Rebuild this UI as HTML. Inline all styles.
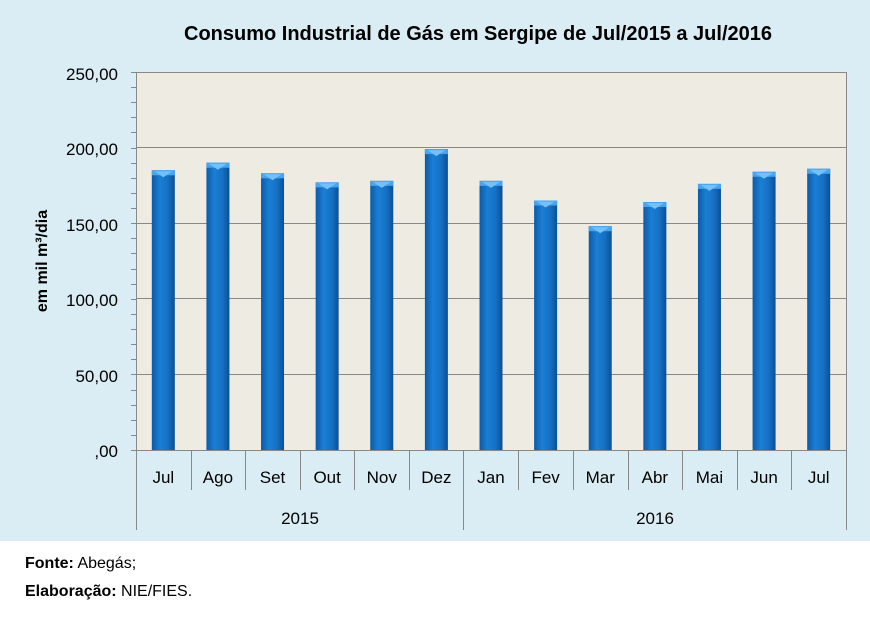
<!DOCTYPE html>
<html><head><style>
body{margin:0;width:870px;height:615px;background:#fff;font-family:"Liberation Sans",sans-serif;overflow:hidden}
</style></head><body>
<svg width="870" height="615" xmlns="http://www.w3.org/2000/svg" font-family="Liberation Sans, sans-serif">
<defs>
<linearGradient id="b" x1="0" x2="1" y1="0" y2="0">
<stop offset="0" stop-color="#0c5aa6"/><stop offset="0.35" stop-color="#1a7fd4"/><stop offset="0.7" stop-color="#1670c4"/><stop offset="1" stop-color="#0b4f94"/>
</linearGradient>
</defs>
<rect x="0" y="0" width="870" height="541" fill="#dbedf4"/>
<text x="478" y="40" text-anchor="middle" font-size="20" font-weight="bold" fill="#000">Consumo Industrial de Gás em Sergipe de Jul/2015 a Jul/2016</text>
<rect x="136" y="72" width="710" height="378" fill="#eeece2"/>
<g stroke="#888" stroke-width="1">
<line x1="136" y1="72.5" x2="846" y2="72.5"/><line x1="136" y1="147.5" x2="846" y2="147.5"/>
<line x1="136" y1="223.5" x2="846" y2="223.5"/><line x1="136" y1="298.5" x2="846" y2="298.5"/>
<line x1="136" y1="374.5" x2="846" y2="374.5"/>
<line x1="846.5" y1="72" x2="846.5" y2="450"/>
<line x1="136.5" y1="72" x2="136.5" y2="530"/>
<line x1="131" y1="450.5" x2="846" y2="450.5"/>
<line x1="463.5" y1="450" x2="463.5" y2="530"/>
<line x1="846.5" y1="450" x2="846.5" y2="530"/>
</g>
<g id="ticks" stroke="#888"></g>
<g font-size="17" fill="#000" text-anchor="end">
<text x="118" y="80">250,00</text><text x="118" y="155">200,00</text><text x="118" y="231">150,00</text>
<text x="118" y="306">100,00</text><text x="118" y="382">50,00</text><text x="118" y="457">,00</text>
</g>
<text transform="translate(47,261) rotate(-90)" text-anchor="middle" font-size="16" font-weight="bold">em mil m³/dia</text>
<g id="bars"></g>
<text x="300" y="524" text-anchor="middle" font-size="17">2015</text>
<text x="655" y="524" text-anchor="middle" font-size="17">2016</text>
<text x="25" y="568" font-size="16"><tspan font-weight="bold">Fonte:</tspan> Abegás;</text>
<text x="25" y="596" font-size="16"><tspan font-weight="bold">Elaboração:</tspan> NIE/FIES.</text>
</svg>
<script>
(function(){
var v=[185,190,183,177,178,199,178,165,148,164,176,184,186];
var l=["Jul","Ago","Set","Out","Nov","Dez","Jan","Fev","Mar","Abr","Mai","Jun","Jul"];
var ns="http://www.w3.org/2000/svg",g=document.getElementById("bars"),t=document.getElementById("ticks");
function el(n,a,p,txt){var e=document.createElementNS(ns,n);for(var k in a)e.setAttribute(k,a[k]);if(txt)e.textContent=txt;(p||g).appendChild(e);return e;}
var w=710/13;
for(var yv=0;yv<=250;yv+=10){var yy=Math.round(450-yv*1.512)+.5;el("line",{x1:131,x2:136,y1:yy,y2:yy},t);}
for(var i=0;i<13;i++){
var cx=136+w*(i+.5),tp=450-v[i]*1.512;
el("rect",{x:cx-11.5,y:tp,width:23,height:450-tp,fill:"url(#b)"});
el("rect",{x:cx-11.5,y:tp,width:23,height:5,fill:"#48a4ef"});
el("path",{d:"M"+(cx-9)+" "+(tp+1)+" L"+(cx+9)+" "+(tp+1)+" L"+cx+" "+(tp+7)+"Z",fill:"#74c0f7"});
el("text",{x:cx,y:483,"text-anchor":"middle","font-size":"17"},g,l[i]);
if(i>0&&i!=6){var xx=Math.round(136+w*i)+.5;el("line",{x1:xx,x2:xx,y1:450,y2:490,stroke:"#888"},t);}
}
})();
</script>
</body></html>
